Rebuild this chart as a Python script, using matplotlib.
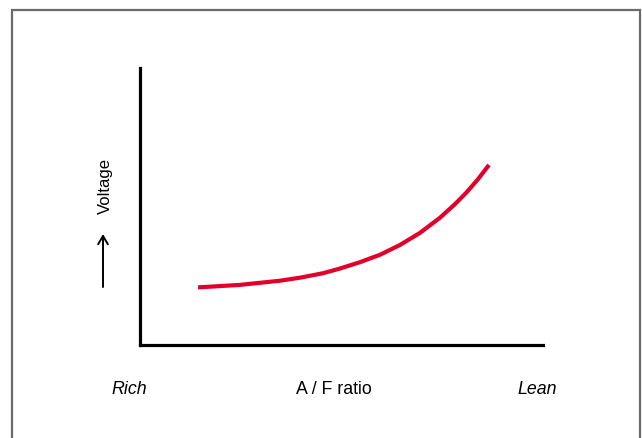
import matplotlib
matplotlib.use("Agg")
import matplotlib.pyplot as plt
from matplotlib.patches import Rectangle, FancyArrowPatch

# Data (A/F ratio position vs voltage, arbitrary units 0-100)
af_ratio = [14.4, 24.8, 34.7, 39.7, 45.4, 49.6, 54.6, 59.6, 64.5, 69.5,
            74.4, 78.2, 81.1, 83.9, 86.6]
voltage = [20.8, 21.7, 23.2, 24.3, 25.9, 27.6, 29.9, 32.6, 36.1, 40.5,
           45.9, 50.9, 55.2, 59.9, 65.0]

x_label = "A / F ratio"
y_label = "Voltage"
left_label = "Rich"
right_label = "Lean"

plt.rcParams['font.family'] = ['Liberation Sans', 'DejaVu Sans']

W, H = 642, 438
fig = plt.figure(figsize=(W / 100, H / 100), dpi=100)

def fx(px):
    return px / W

def fy(py):
    return 1 - py / H

# outer border
fig.patches.append(Rectangle((fx(12), fy(460)), fx(640) - fx(12), fy(9.5) - fy(460),
                             transform=fig.transFigure, fill=False,
                             edgecolor='#6b6b6b', linewidth=1.6, clip_on=False))

ax = fig.add_axes([fx(140), fy(345), fx(543) - fx(140), fy(68) - fy(345)])
ax.set_xlim(0, 100)
ax.set_ylim(0, 100)
for s in ['top', 'right']:
    ax.spines[s].set_visible(False)
for s in ['left', 'bottom']:
    ax.spines[s].set_linewidth(2.3)
    ax.spines[s].set_color('black')
    ax.spines[s].set_capstyle('projecting')
ax.set_xticks([])
ax.set_yticks([])
ax.patch.set_alpha(0)

ax.plot(af_ratio, voltage, color='#e2002a', linewidth=3.0,
        solid_capstyle='butt', solid_joinstyle='round')

fig.text(fx(333.5), fy(390), x_label, ha='center', va='center', fontsize=12.8)
fig.text(fx(129.5), fy(390), left_label, ha='center', va='center', fontsize=12.8, style='italic')
fig.text(fx(537.5), fy(390), right_label, ha='center', va='center', fontsize=12.8, style='italic')
fig.text(fx(105.5), fy(186), y_label, ha='center', va='center', fontsize=12, rotation=90)

fig.add_artist(FancyArrowPatch(
    (fx(103), fy(287)), (fx(103), fy(234)), transform=fig.transFigure,
    arrowstyle='->,head_length=6,head_width=3.5', color='black', linewidth=1.4,
    mutation_scale=1, shrinkA=0, shrinkB=0))

fig.savefig('out.png', dpi=100)
